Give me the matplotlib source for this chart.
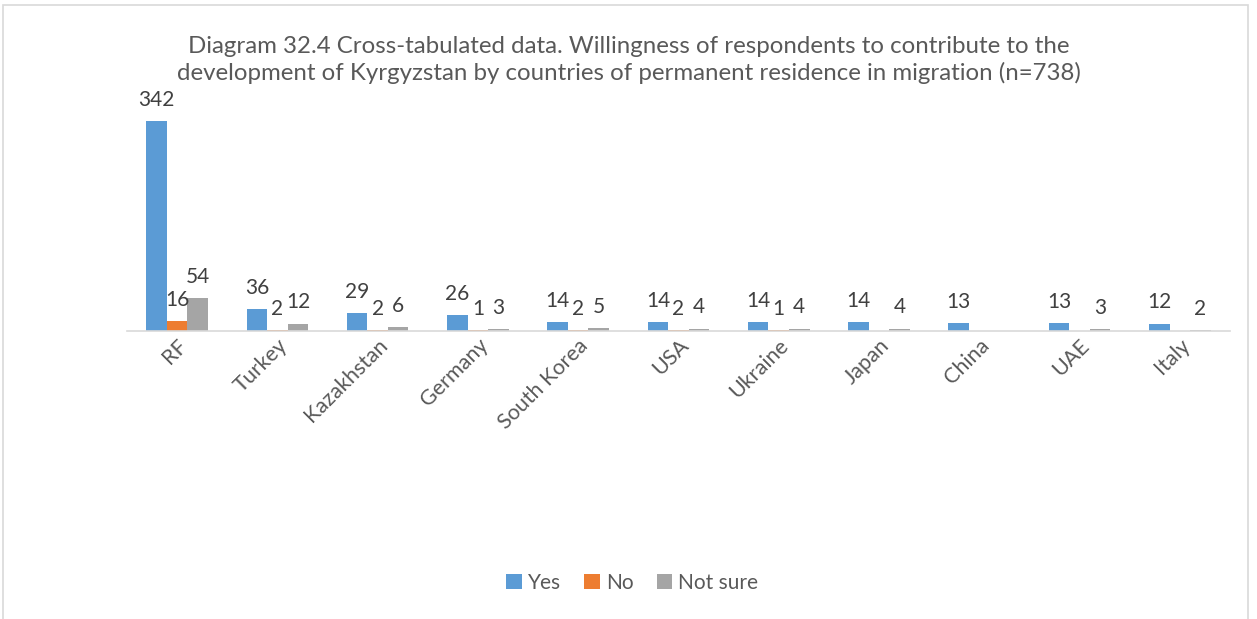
import matplotlib
matplotlib.use("Agg")
import matplotlib.pyplot as plt
from matplotlib.patches import Rectangle
import numpy as np

categories = ["RF", "Turkey", "Kazakhstan", "Germany", "South Korea", "USA",
              "Ukraine", "Japan", "China", "UAE", "Italy"]
yes = [342, 36, 29, 26, 14, 14, 14, 14, 13, 13, 12]
no = [16, 2, 2, 1, 2, 2, 1, None, None, None, None]
not_sure = [54, 12, 6, 3, 5, 4, 4, 4, None, 3, 2]

series = [("Yes", yes, "#5B9BD5"), ("No", no, "#ED7D31"), ("Not sure", not_sure, "#A5A5A5")]
title = ("Diagram 32.4 Cross-tabulated data. Willingness of respondents to contribute to the\n"
         "development of Kyrgyzstan by countries of permanent residence in migration (n=738)")

plt.rcParams['font.family'] = ['Lato', 'DejaVu Sans']

fig = plt.figure(figsize=(12.57, 6.19), dpi=100)
ax = fig.add_axes([0.101, 0.4653, 0.8775, 0.397])

x = np.arange(len(categories))
w = 0.205
for i, (name, vals, col) in enumerate(series):
    offs = (i - 1) * w
    hv = [v if v is not None else 0 for v in vals]
    ax.bar(x + offs, hv, width=w, color=col, label=name)
    for xi, v in zip(x, vals):
        if v is None:
            continue
        ax.annotate(str(v), (xi + offs, v), xytext=(0, 8), textcoords="offset points",
                    ha="center", va="bottom", fontsize=15, color="#404040")

ax.set_xlim(-0.5, len(categories) - 0.5)
ax.set_ylim(0, 400)
for s in ["top", "right", "left"]:
    ax.spines[s].set_visible(False)
ax.spines["bottom"].set_color("#D9D9D9")
ax.spines["bottom"].set_linewidth(1.2)
ax.set_yticks([])
ax.set_xticks(x)
ax.set_xticklabels(categories, rotation=45, ha="right", rotation_mode="anchor",
                   fontsize=15.5, color="#595959")
ax.tick_params(axis="x", length=0, pad=3)

fig.text(0.5, 0.903, title, ha="center", va="center", fontsize=17.3, color="#595959",
         linespacing=1.25)

leg = fig.legend(loc="center", bbox_to_anchor=(0.503, 0.058), ncol=3, frameon=False,
                 fontsize=15, handlelength=0.75, handleheight=0.75, handletextpad=0.3,
                 columnspacing=1.1)
for t in leg.get_texts():
    t.set_color("#595959")

fig.patches.append(Rectangle((3 / 1257, -0.05), 1245 / 1257, 1.042, transform=fig.transFigure,
                             fill=False, edgecolor="#D9D9D9", linewidth=1.2))

fig.savefig("out.png", dpi=100, facecolor="white")
